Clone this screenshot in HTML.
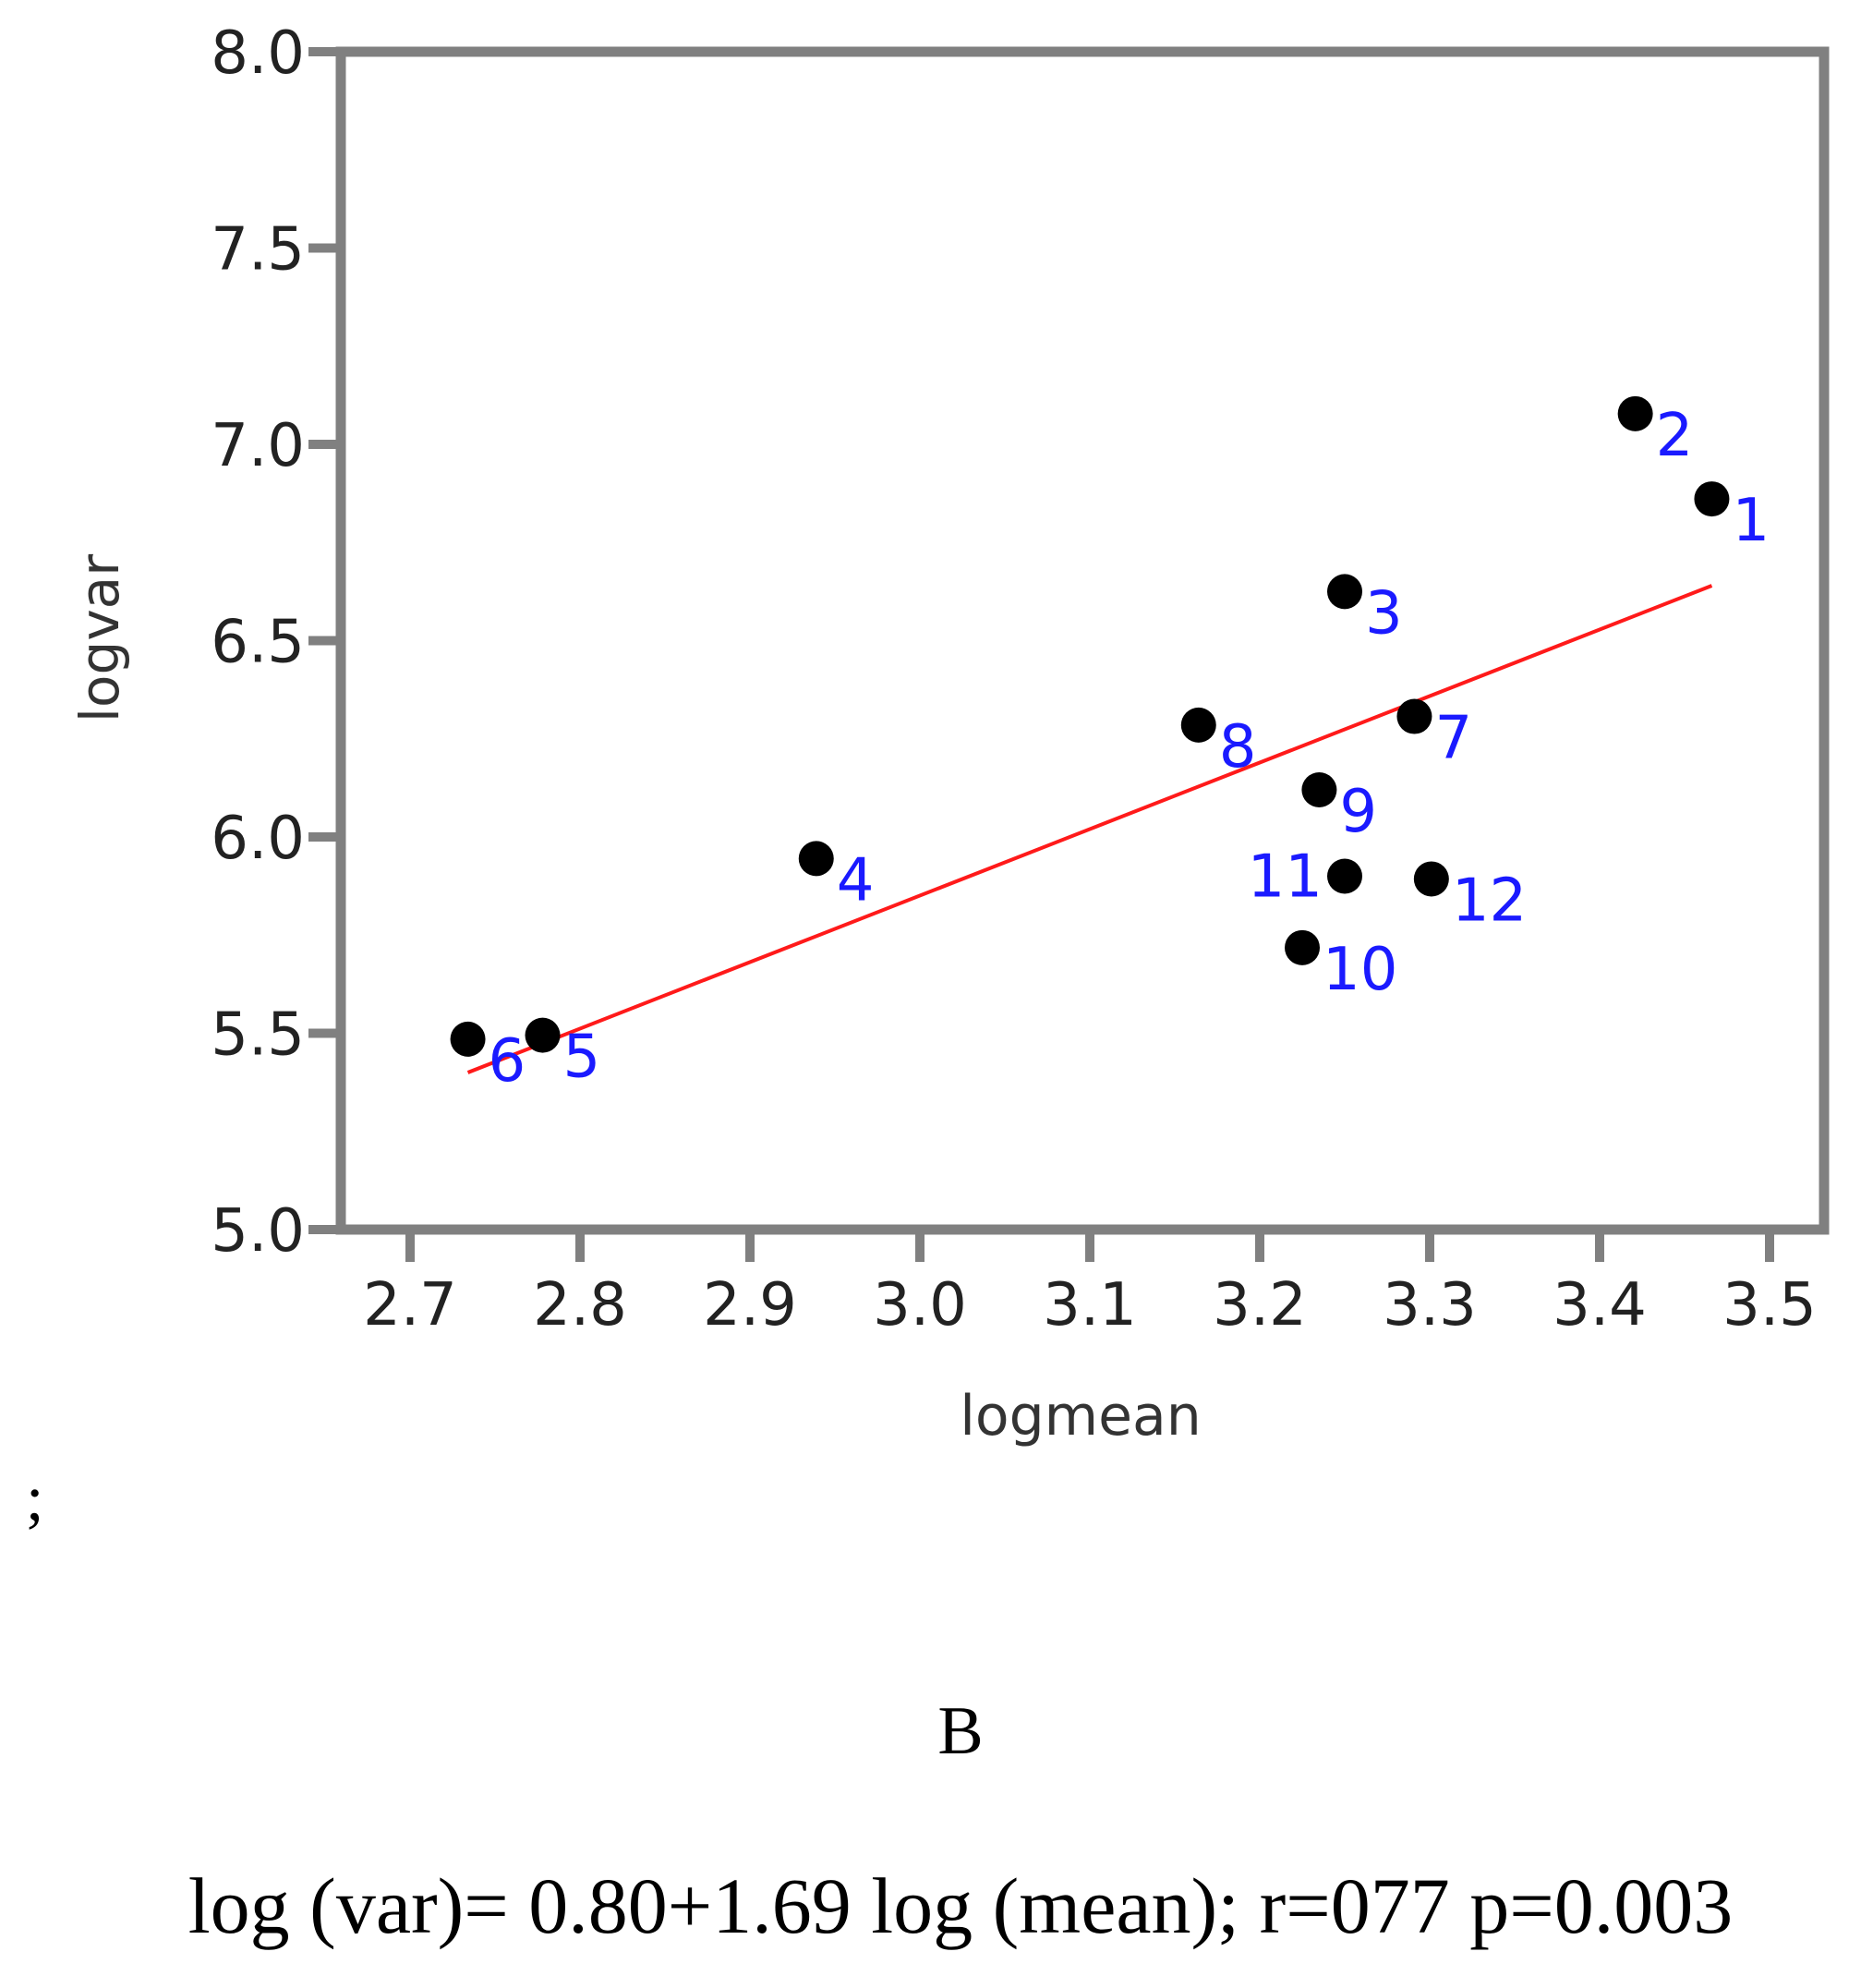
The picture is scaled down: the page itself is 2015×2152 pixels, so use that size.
<!DOCTYPE html>
<html><head><meta charset="utf-8"><style>
html,body{margin:0;padding:0;background:#fff;}
svg{display:block;}
</style></head><body>
<svg width="2015" height="2152" viewBox="0 0 2015 2152" xmlns="http://www.w3.org/2000/svg">
<g id="plot"></g>
<text x="1170" y="1553" font-family="'DejaVu Sans','Liberation Sans',sans-serif" font-size="60" fill="#333" text-anchor="middle">logmean</text>
<text transform="translate(128,691) rotate(-90)" font-family="'DejaVu Sans','Liberation Sans',sans-serif" font-size="58" fill="#333" text-anchor="middle">logvar</text>
<text x="28" y="1645" font-family="'Liberation Serif',serif" font-size="70" fill="#000">;</text>
<text x="1040" y="1898" font-family="'Liberation Serif',serif" font-size="74" fill="#000" text-anchor="middle">B</text>
<text x="1040" y="2092" font-family="'Liberation Serif',serif" font-size="86" fill="#000" text-anchor="middle">log (var)= 0.80+1.69 log (mean); r=077 p=0.003</text>
</svg>
<script>
const xTicks=[2.7,2.8,2.9,3.0,3.1,3.2,3.3,3.4,3.5];
const yTicks=[5.0,5.5,6.0,6.5,7.0,7.5,8.0];
const pointLabels=["1","2","3","4","5","6","7","8","9","10","11","12"];
const xValues=[3.466,3.421,3.250,2.939,2.778,2.734,3.291,3.164,3.235,3.225,3.250,3.301];
const yValues=[6.861,7.078,6.625,5.945,5.495,5.485,6.307,6.285,6.120,5.718,5.900,5.893];
const fitX=[2.734,3.466];
const fitY=[5.40,6.64];

const L=369,R=1975,T=56,B=1331;
const xs=v=>444+(v-2.7)*1840;
const ys=v=>B-(v-5.0)*(B-T)/3;
const NS="http://www.w3.org/2000/svg";
const g=document.getElementById('plot');
function mk(tag,attrs){const e=document.createElementNS(NS,tag);for(const k in attrs)e.setAttribute(k,attrs[k]);g.appendChild(e);return e;}

const frame=mk('rect',{x:L,y:T,width:R-L,height:B-T,fill:'none',stroke:'#808080','stroke-width':11});



yTicks.forEach(v=>{
  const t=mk('line',{x1:334,x2:L,y1:ys(v),y2:ys(v),stroke:'#808080','stroke-width':10});
  
  
  const l=mk('text',{x:330,y:ys(v)+23,'text-anchor':'end','font-family':"'DejaVu Sans','Liberation Sans',sans-serif",'font-size':64,fill:'#222'});
  l.textContent=v.toFixed(1);
  
  
});
xTicks.forEach(v=>{
  const t=mk('line',{x1:xs(v),x2:xs(v),y1:B,y2:B+35,stroke:'#808080','stroke-width':10});
  
  
  const l=mk('text',{x:xs(v),y:1434,'text-anchor':'middle','font-family':"'DejaVu Sans','Liberation Sans',sans-serif",'font-size':64,fill:'#222'});
  l.textContent=v.toFixed(1);
  
  
});

const fit=mk('line',{x1:xs(fitX[0]),y1:ys(fitY[0]),x2:xs(fitX[1]),y2:ys(fitY[1]),stroke:'#ff1a1a','stroke-width':4});



xValues.forEach((xv,i)=>{
  const cx=xs(xv),cy=ys(yValues[i]);
  const c=mk('circle',{cx:cx,cy:cy,r:19,fill:'#000'});
  
  
  const left=pointLabels[i]==="11";
  const t=mk('text',{x:left?cx-24:cx+22,y:cy+45,'text-anchor':left?'end':'start','font-family':"'DejaVu Sans','Liberation Sans',sans-serif",'font-size':64,fill:'#1a1aff'});
  if(left) t.setAttribute('y',cy+22);
  t.textContent=pointLabels[i];
  
  
});
</script>
</body></html>
